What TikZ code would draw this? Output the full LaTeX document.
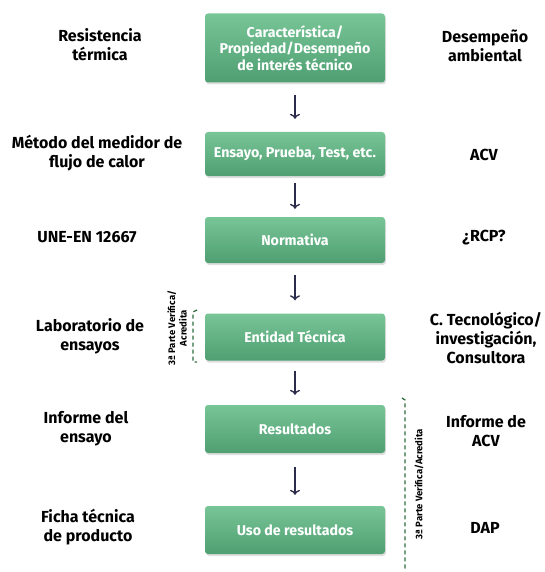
\documentclass[tikz,border=0pt]{standalone}
\usepackage{fontspec}
\setmainfont{Fira Sans}
\usetikzlibrary{shadows,arrows.meta}
\definecolor{boxtop}{HTML}{78C597}
\definecolor{boxbot}{HTML}{4F9F72}
\definecolor{arrowc}{HTML}{2B2B4B}
\definecolor{dashc}{HTML}{2E6B3E}
\begin{document}
\begin{tikzpicture}[x=1pt, y=-1pt,
  paso/.style={rounded corners=3pt, top color=boxtop, bottom color=boxbot, draw=none,
    minimum width=180pt, text=white, font=\fontsize{14.2}{16.5}\selectfont\bfseries,
    align=center, drop shadow={opacity=0.25, shadow xshift=1pt, shadow yshift=-2pt}},
  lado/.style={align=center, font=\fontsize{16}{19}\selectfont\bfseries},
  giro/.style={rotate=90, align=center, font=\fontsize{9.5}{11.5}\selectfont\bfseries},
  flecha/.style={-{To[length=5pt,width=10pt]}, line width=1.4pt, arrowc},
  llave/.style={dashc, line width=1.3pt, dash pattern=on 4pt off 3pt}]
\useasboundingbox (0,0) rectangle (544,572);

\node[paso, minimum height=69pt] (c) at (295,48) {Característica/\\Propiedad/Desempeño\\de interés técnico};
\node[paso, minimum height=44pt] (e) at (295,154) {Ensayo, Prueba, Test, etc.};
\node[paso, minimum height=46pt] (n) at (295,240) {Normativa};
\node[paso, minimum height=47pt] (t) at (295,337) {Entidad Técnica};
\node[paso, minimum height=48pt] (r) at (295,429) {Resultados};
\node[paso, minimum height=48pt] (u) at (295,530) {Uso de resultados};

\node[lado] (c1) at (100,45) {Resistencia\\térmica};
\node[lado] (e1) at (97,153) {Método del medidor de\\flujo de calor};
\node[lado] (n1) at (87,237) {UNE-EN 12667};
\node[lado] (t1) at (90,336) {Laboratorio de\\ensayos};
\node[lado] (r1) at (86,429) {Informe del\\ensayo};
\node[lado] (u1) at (88,527) {Ficha técnica\\de producto};

\node[lado] (c2) at (485,46) {Desempeño\\ambiental};
\node[lado] (e2) at (484,155) {ACV};
\node[lado] (n2) at (484,238) {¿RCP?};
\node[lado] (t2) at (486,338) {C. Tecnológico/\\investigación,\\Consultora};
\node[lado] (r2) at (486,431) {Informe de\\ACV};
\node[lado] (u2) at (485,528) {DAP};

\draw[flecha, shorten <=12pt, shorten >=13pt] (c) -- (e);
\draw[flecha, shorten <=7pt, shorten >=8pt] (e) -- (n);
\draw[flecha, shorten <=12pt, shorten >=13pt] (n) -- (t);
\draw[flecha, shorten <=10pt, shorten >=10pt] (t) -- (r);
\draw[flecha, shorten <=14pt, shorten >=11pt] (r) -- (u);

% llaves de verificacion
\coordinate (la) at (197,310);
\coordinate (lb) at (197,362);
\draw[llave] (la) -- ++(-4,2) -- ([xshift=-4pt]lb) -- (lb);
\node[giro] (lt) at (177,328) {3ª Parte Verifica/\\Acredita};

\coordinate (ra) at (402,398);
\coordinate (rb) at (402,568);
\draw[llave] (ra) -- ++(3,2) -- ([xshift=3pt]rb) -- (rb);
\node[giro] (rt) at (419,484) {3ª Parte Verifica/Acredita};
\end{tikzpicture}
\end{document}
